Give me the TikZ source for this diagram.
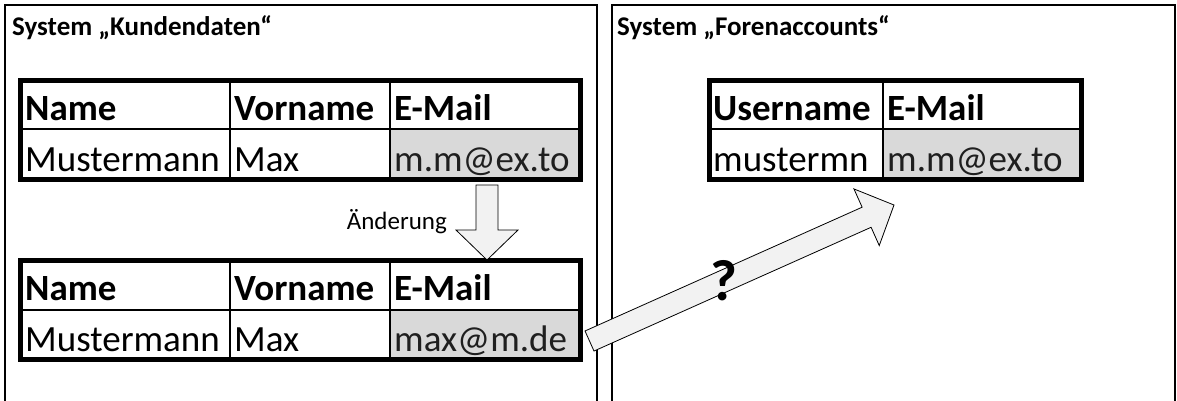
\documentclass[tikz,border=0pt]{standalone}
\usepackage{fontspec}
\setmainfont{Carlito}
\usetikzlibrary{calc}
\definecolor{cellgray}{HTML}{D9D9D9}
\definecolor{arrowfill}{HTML}{F2F2F2}
\tikzset{
  frame/.style={draw, line width=2.5pt},
  tableborder/.style={draw, line width=5pt},
  gridline/.style={line width=1.6pt},
  hdr/.style={anchor=base west, inner sep=0pt, font=\fontsize{37}{40}\selectfont\bfseries},
  val/.style={anchor=base west, inner sep=0pt, font=\fontsize{37}{40}\selectfont},
  graytxt/.style={text=black!88},
  systitle/.style={anchor=base west, inner sep=0pt, font=\fontsize{27}{29}\selectfont\bfseries},
  blockarrow/.style={draw, fill=arrowfill, line width=0.8pt, line join=miter},
}
% block arrow from #1 to #2: shaft half width 11, head half width 31, head length 30
\newcommand\blockarrowfromto[2]{%
  \draw[blockarrow] let \p1=($(#2)-(#1)$), \n1={atan2(\y1,\x1)}, \n2={veclen(\x1,\y1)} in
    [shift={(#1)}, rotate=\n1]
    (0,-11) -- (\n2-30,-11) -- (\n2-30,-31) -- (\n2,0) -- (\n2-30,31) -- (\n2-30,11) -- (0,11) -- cycle;
}
\begin{document}
\begin{tikzpicture}[x=1pt,y=-1pt]
\useasboundingbox (0,0) rectangle (1177,400);
\clip (0,0) rectangle (1177,400);

% system frames (open at the bottom)
\draw[frame] (5,420) -- (5,5) -- (597,5) -- (597,420);
\draw[frame] (612,420) -- (612,5) -- (1175,5) -- (1175,420);
\node[systitle] (t1) at (12,35) {System „Kundendaten“};
\node[systitle] (t2) at (617,35) {System „Forenaccounts“};

% table "Kundendaten" before the change
\fill[cellgray] (390,129) rectangle (580,179);
\draw[gridline] (20.5,129) -- (580,129) (230,80) -- (230,179) (390,80) -- (390,179);
\draw[tableborder] (20.5,80) rectangle (580,179);
\node[hdr] (a1) at (25,120) {Name};
\node[hdr] (a2) at (234,120) {Vorname};
\node[hdr] (a3) at (394,120) {E-Mail};
\node[val] (a4) at (25,171) {Mustermann};
\node[val] (a5) at (234,171) {Max};
\node[val,graytxt] (a6) at (394,171) {m.m@ex.to};

% table "Kundendaten" after the change
\fill[cellgray] (390,310) rectangle (580,359.5);
\draw[gridline] (20.5,310) -- (580,310) (230,260) -- (230,359.5) (390,260) -- (390,359.5);
\draw[tableborder] (20.5,260) rectangle (580,359.5);
\node[hdr] (b1) at (25,300.5) {Name};
\node[hdr] (b2) at (234,300.5) {Vorname};
\node[hdr] (b3) at (394,300.5) {E-Mail};
\node[val] (b4) at (25,351.5) {Mustermann};
\node[val] (b5) at (234,351.5) {Max};
\node[val,graytxt] (b6) at (394,351.5) {max@m.de};

% table "Forenaccounts"
\fill[cellgray] (883,129) rectangle (1081,179);
\draw[gridline] (709,129) -- (1081,129) (883,80) -- (883,179);
\draw[tableborder] (709,80) rectangle (1081,179);
\node[hdr] (c1) at (713,120) {Username};
\node[hdr] (c2) at (887,120) {E-Mail};
\node[val] (c3) at (713,171) {mustermn};
\node[val,graytxt] (c4) at (887,171) {m.m@ex.to};

% change arrow
\coordinate (dtail) at (487,185);
\coordinate (dtip) at (487,260);
\blockarrowfromto{dtail}{dtip}
\node[anchor=base east, inner sep=0pt, font=\fontsize{25}{27}\selectfont] (chg) at (447,229) {Änderung};

% synchronisation arrow
\coordinate (stail) at (589.5,341);
\coordinate (stip) at (894,205);
\blockarrowfromto{stail}{stip}
\node[inner sep=0pt, font=\fontsize{58}{60}\selectfont\bfseries] (q) at (724,281) {?};
\end{tikzpicture}
\end{document}
